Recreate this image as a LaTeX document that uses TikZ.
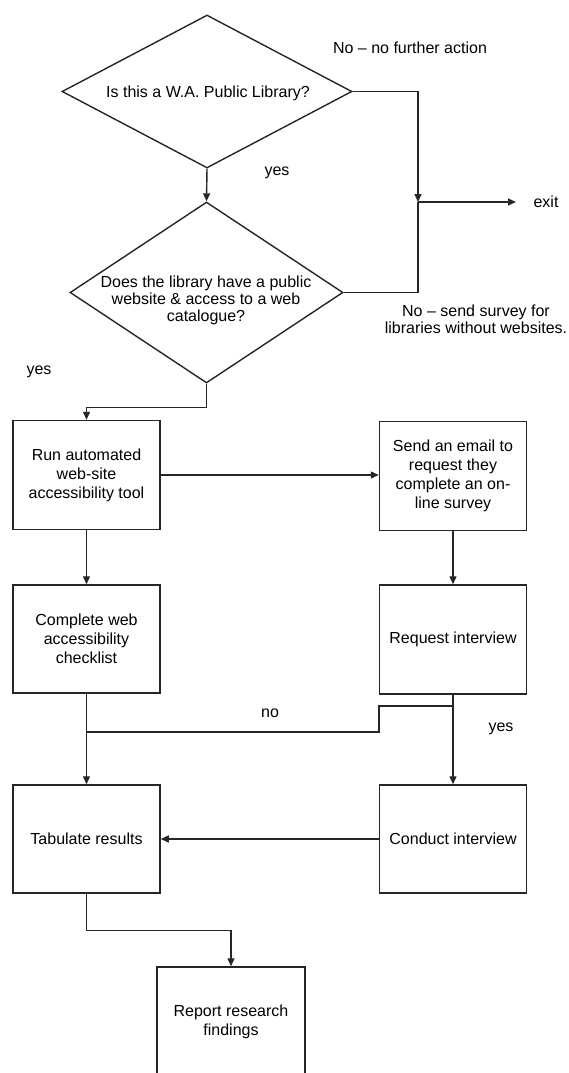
\documentclass[tikz,border=0pt]{standalone}
\usepackage{fontspec}
\setmainfont{Liberation Sans}
\usetikzlibrary{shapes.geometric,arrows.meta}
\begin{document}
\begin{tikzpicture}[x=1pt,y=-1pt,
  conn/.style={draw=black!85,line width=1.4pt},
  arr/.style={conn,-{Triangle[length=8pt,width=7pt]}},
  box/.style={draw=black!85,line width=1.5pt,minimum width=147pt,minimum height=109pt,
    align=center,inner sep=2pt,font=\fontsize{16}{19}\selectfont},
  dia/.style={diamond,draw=black!85,line width=1.4pt,inner sep=0pt},
  txt/.style={align=center,inner sep=0pt,font=\fontsize{16}{17}\selectfont}]
\useasboundingbox (0,0) rectangle (569,1073);
\clip (0,0) rectangle (569,1073);
% decisions
\node[dia,minimum width=290pt,minimum height=153pt] (d1) at (207,91.5) {};
\node[txt] (t1) at (208,93) {Is this a W.A. Public Library?};
\node[dia,minimum width=273pt,minimum height=181pt] (d2) at (206.5,292.5) {};
\node[txt] (t2) at (206,300) {Does the library have a public\\website \& access to a web\\catalogue?};
% boxes
\node[box] (b1) at (86.5,475) {Run automated\\web-site\\accessibility tool};
\node[box] (b2) at (453,476) {Send an email to\\request they\\complete an on-\\line survey};
\node[box,minimum height=108pt] (b3) at (86.5,639) {Complete web\\accessibility\\checklist};
\node[box] (b4) at (453,639.5) {Request interview};
\node[box,minimum height=108pt] (b5) at (86.5,839) {Tabulate results};
\node[box,minimum height=108pt] (b6) at (453,839) {Conduct interview};
\node[box,minimum width=148pt,minimum height=110pt] (b7) at (231,1022) {Report research\\findings};
% coordinates
\coordinate (j) at (418,202);
\coordinate (ex) at (516,202);
\coordinate (n0) at (453,706);
\coordinate (n1) at (379,732);
\coordinate (n2) at (86.5,732);
% connectors
\draw[arr] (d1.south) -- (d2.north);
\draw[arr] (d1.east) -| (j);
\draw[arr] (j) -- (ex);
\draw[conn] (d2.east) -| (j);
\draw[arr] (d2.south) -- ++(0,24) -| (b1.north);
\draw[arr] (b1.east) -- (b1.east -| b2.west);
\draw[arr] (b1.south) -- (b3.north);
\draw[arr] (b2.south) -- (b4.north);
\draw[arr] (b4.south) -- (b6.north);
\draw[conn] (n0) -| (n1) -- (n2);
\draw[arr] (b3.south) -- (b5.north);
\draw[arr] (b6.west) -- (b6.west -| b5.east);
\draw[arr] (b5.south) -- ++(0,37) -| (b7.north);
% labels
\node[txt] (lno1) at (410,48) {No – no further action};
\node[txt] (lexit) at (546,202) {exit};
\node[txt] (lyes1) at (277,173) {yes};
\node[txt] (lno2) at (476,319) {No – send survey for\\libraries without websites.};
\node[txt] (lyes2) at (39,372) {yes};
\node[txt] (lno3) at (270,713) {no};
\node[txt] (lyes3) at (501,729) {yes};
\end{tikzpicture}
\end{document}
